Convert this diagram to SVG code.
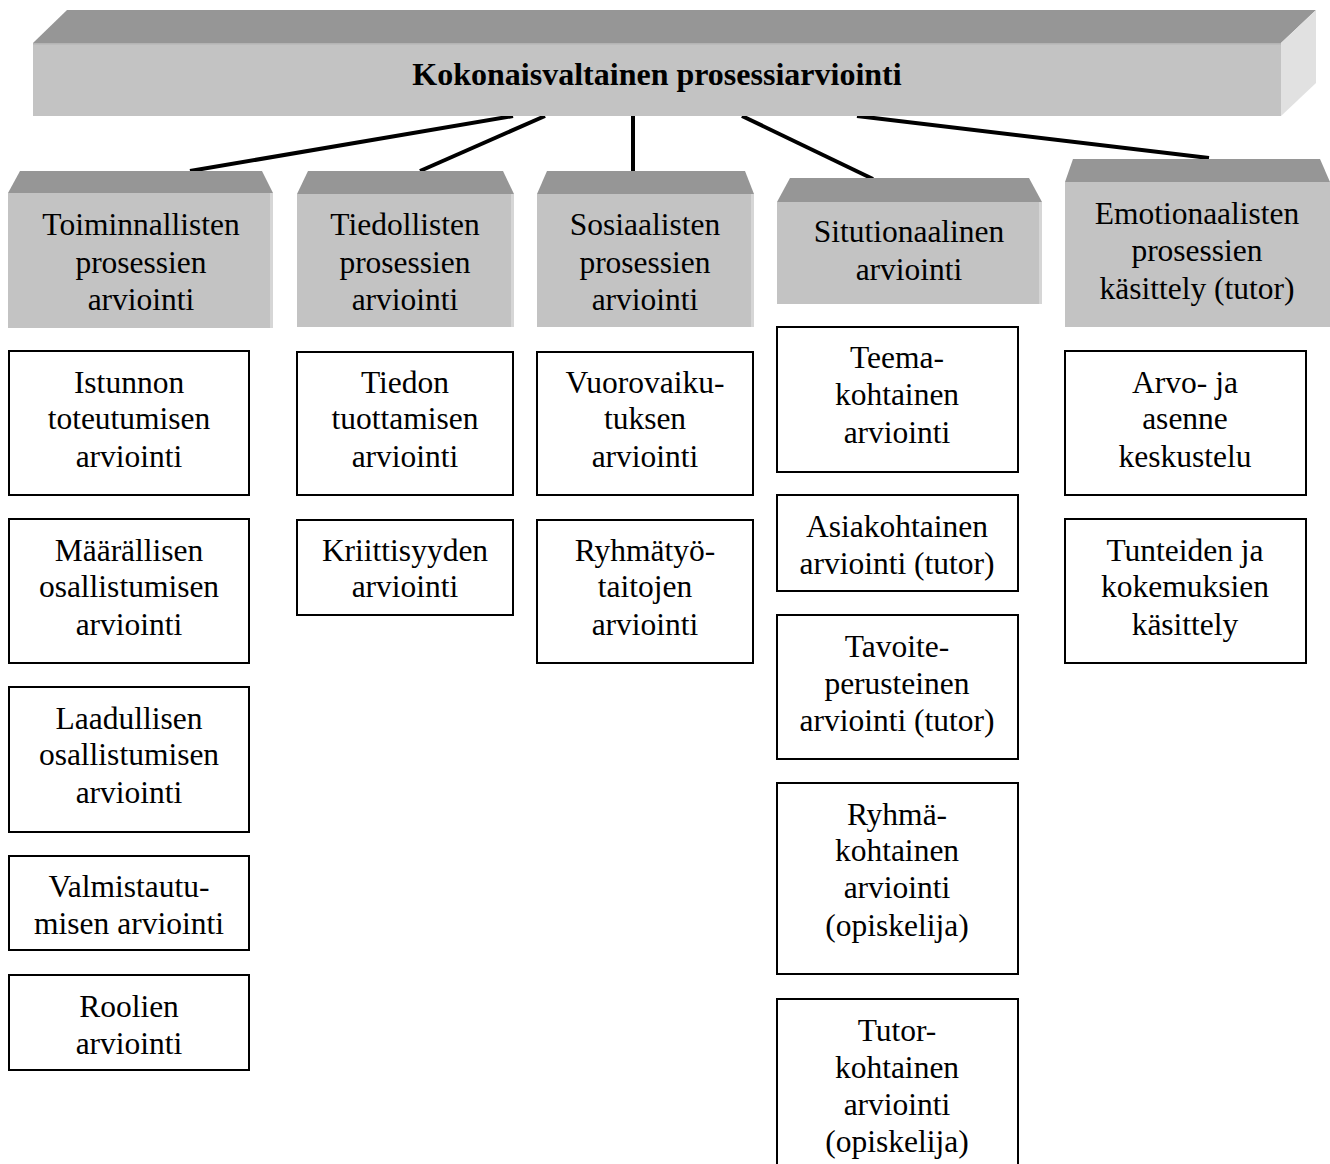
<svg xmlns="http://www.w3.org/2000/svg" width="1330" height="1164" viewBox="0 0 1330 1164">
  <style>
    .top { fill: #969696; }
    .front { fill: #c3c3c3; }
    .side { fill: #e1e1e1; }
    .edge { fill: #d6d6d6; }
    .box { fill: #ffffff; stroke: #000000; stroke-width: 2; }
    .conn { stroke: #000000; stroke-width: 4; fill: none; }
    text { font-family: "Liberation Serif", "Times New Roman", serif; font-size: 31.5px; fill: #000000; text-anchor: middle; }
    .title { font-weight: bold; font-size: 32px; }
  </style>

  <rect width="1330" height="1164" fill="#ffffff"/>

  <!-- connectors from the main block down to the five category blocks -->
  <g id="connectors">
    <line class="conn" x1="513" y1="116" x2="190" y2="171"/>
    <line class="conn" x1="545" y1="116" x2="420" y2="171"/>
    <line class="conn" x1="633" y1="116" x2="633" y2="171"/>
    <line class="conn" x1="742" y1="116" x2="873" y2="179"/>
    <line class="conn" x1="857" y1="116" x2="1209" y2="158"/>
  </g>

  <!-- main 3D block -->
  <g id="main">
    <polygon class="top" points="33,43 67,10 1316,10 1281,43"/>
    <polygon class="side" points="1281,43 1316,10 1316,83 1281,116"/>
    <rect class="front" x="33" y="43" width="1248" height="73"/>
    <rect x="33" y="43" width="1248" height="1.5" fill="#b4b4b4"/>
    <text class="title" x="657" y="85">Kokonaisvaltainen prosessiarviointi</text>
  </g>

  <!-- category blocks -->
  <g id="cat-toiminnallisten">
    <polygon class="top" points="20,171 262,171 273,193 8,193"/>
    <rect class="front" x="8" y="193" width="265" height="135"/>
    <rect class="edge" x="270" y="193" width="3" height="135"/>
    <text x="141" y="235">Toiminnallisten</text>
    <text x="141" y="273">prosessien</text>
    <text x="141" y="310">arviointi</text>
  </g>
  <g id="cat-tiedollisten">
    <polygon class="top" points="308,171 503,171 514,194 297,194"/>
    <rect class="front" x="297" y="194" width="217" height="133"/>
    <rect class="edge" x="511" y="194" width="3" height="133"/>
    <text x="405" y="235">Tiedollisten</text>
    <text x="405" y="273">prosessien</text>
    <text x="405" y="310">arviointi</text>
  </g>
  <g id="cat-sosiaalisten">
    <polygon class="top" points="547,171 745,171 754,194 537,194"/>
    <rect class="front" x="537" y="194" width="217" height="133"/>
    <rect class="edge" x="751" y="194" width="3" height="133"/>
    <text x="645" y="235">Sosiaalisten</text>
    <text x="645" y="273">prosessien</text>
    <text x="645" y="310">arviointi</text>
  </g>
  <g id="cat-situtionaalinen">
    <polygon class="top" points="790,178 1029,178 1042,202 777,202"/>
    <rect class="front" x="777" y="202" width="265" height="102"/>
    <rect class="edge" x="1039" y="202" width="3" height="102"/>
    <text x="909" y="242">Situtionaalinen</text>
    <text x="909" y="280">arviointi</text>
  </g>
  <g id="cat-emotionaalisten">
    <polygon class="top" points="1073,159 1320,159 1330,182 1065,182"/>
    <rect class="front" x="1065" y="182" width="265" height="145"/>
    <text x="1197" y="224">Emotionaalisten</text>
    <text x="1197" y="261">prosessien</text>
    <text x="1197" y="299">käsittely (tutor)</text>
  </g>

  <!-- column 1 items -->
  <g id="istunnon">
    <rect class="box" x="9" y="351" width="240" height="144"/>
    <text x="129" y="393">Istunnon</text>
    <text x="129" y="429">toteutumisen</text>
    <text x="129" y="467">arviointi</text>
  </g>
  <g id="maarallisen">
    <rect class="box" x="9" y="519" width="240" height="144"/>
    <text x="129" y="561">Määrällisen</text>
    <text x="129" y="597">osallistumisen</text>
    <text x="129" y="635">arviointi</text>
  </g>
  <g id="laadullisen">
    <rect class="box" x="9" y="687" width="240" height="145"/>
    <text x="129" y="729">Laadullisen</text>
    <text x="129" y="765">osallistumisen</text>
    <text x="129" y="803">arviointi</text>
  </g>
  <g id="valmistautumisen">
    <rect class="box" x="9" y="856" width="240" height="94"/>
    <text x="129" y="897">Valmistautu-</text>
    <text x="129" y="934">misen arviointi</text>
  </g>
  <g id="roolien">
    <rect class="box" x="9" y="975" width="240" height="95"/>
    <text x="129" y="1017">Roolien</text>
    <text x="129" y="1054">arviointi</text>
  </g>

  <!-- column 2 items -->
  <g id="tiedon">
    <rect class="box" x="297" y="352" width="216" height="143"/>
    <text x="405" y="393">Tiedon</text>
    <text x="405" y="429">tuottamisen</text>
    <text x="405" y="467">arviointi</text>
  </g>
  <g id="kriittisyyden">
    <rect class="box" x="297" y="520" width="216" height="95"/>
    <text x="405" y="561">Kriittisyyden</text>
    <text x="405" y="597">arviointi</text>
  </g>

  <!-- column 3 items -->
  <g id="vuorovaikutuksen">
    <rect class="box" x="537" y="352" width="216" height="143"/>
    <text x="645" y="393">Vuorovaiku-</text>
    <text x="645" y="429">tuksen</text>
    <text x="645" y="467">arviointi</text>
  </g>
  <g id="ryhmatyotaitojen">
    <rect class="box" x="537" y="520" width="216" height="143"/>
    <text x="645" y="561">Ryhmätyö-</text>
    <text x="645" y="597">taitojen</text>
    <text x="645" y="635">arviointi</text>
  </g>

  <!-- column 4 items -->
  <g id="teemakohtainen">
    <rect class="box" x="777" y="327" width="241" height="145"/>
    <text x="897" y="368">Teema-</text>
    <text x="897" y="405">kohtainen</text>
    <text x="897" y="443">arviointi</text>
  </g>
  <g id="asiakohtainen">
    <rect class="box" x="777" y="495" width="241" height="96"/>
    <text x="897" y="537">Asiakohtainen</text>
    <text x="897" y="574">arviointi (tutor)</text>
  </g>
  <g id="tavoiteperusteinen">
    <rect class="box" x="777" y="615" width="241" height="144"/>
    <text x="897" y="657">Tavoite-</text>
    <text x="897" y="694">perusteinen</text>
    <text x="897" y="731">arviointi (tutor)</text>
  </g>
  <g id="ryhmakohtainen">
    <rect class="box" x="777" y="783" width="241" height="191"/>
    <text x="897" y="825">Ryhmä-</text>
    <text x="897" y="861">kohtainen</text>
    <text x="897" y="898">arviointi</text>
    <text x="897" y="936">(opiskelija)</text>
  </g>
  <g id="tutorkohtainen">
    <rect class="box" x="777" y="999" width="241" height="180"/>
    <text x="897" y="1041">Tutor-</text>
    <text x="897" y="1078">kohtainen</text>
    <text x="897" y="1115">arviointi</text>
    <text x="897" y="1152">(opiskelija)</text>
  </g>

  <!-- column 5 items -->
  <g id="arvo-asenne">
    <rect class="box" x="1065" y="351" width="241" height="144"/>
    <text x="1185" y="393">Arvo- ja</text>
    <text x="1185" y="429">asenne</text>
    <text x="1185" y="467">keskustelu</text>
  </g>
  <g id="tunteiden">
    <rect class="box" x="1065" y="519" width="241" height="144"/>
    <text x="1185" y="561">Tunteiden ja</text>
    <text x="1185" y="597">kokemuksien</text>
    <text x="1185" y="635">käsittely</text>
  </g>
</svg>
